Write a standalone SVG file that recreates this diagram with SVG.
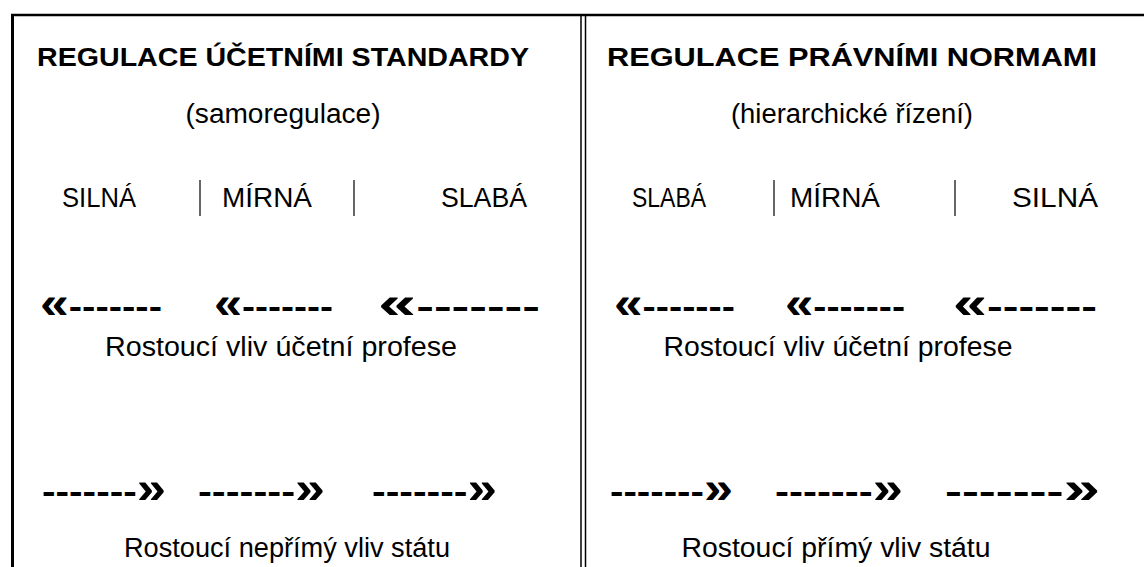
<svg xmlns="http://www.w3.org/2000/svg" width="1144" height="567" viewBox="0 0 1144 567">
<style>
.t{font-family:"Liberation Sans",Arial,sans-serif;fill:#000;text-anchor:middle}
.h{font-size:25px;font-weight:bold}
.n{font-size:27px}
.a{font-size:34px;font-weight:bold;text-anchor:start}
.g{font-size:44px}
.ln{stroke:#000;fill:none}
</style>
<rect width="1144" height="567" fill="#fff"/>
<g id="frame">
<line class="ln" x1="11" y1="15" x2="1144" y2="15" stroke-width="2.5"/>
<line class="ln" x1="12.5" y1="14" x2="12.5" y2="567" stroke-width="3"/>
<line class="ln" x1="581" y1="16" x2="581" y2="567" stroke-width="1.5"/>
<line class="ln" x1="585.5" y1="16" x2="585.5" y2="567" stroke-width="1.5"/>
</g>
<g id="left-panel">
<text class="t h" x="283" y="66" textLength="492" lengthAdjust="spacingAndGlyphs">REGULACE ÚČETNÍMI STANDARDY</text>
<text class="t n" x="283" y="123" textLength="195" lengthAdjust="spacingAndGlyphs">(samoregulace)</text>
<text class="t n" x="99" y="207" textLength="74" lengthAdjust="spacingAndGlyphs">SILNÁ</text>
<text class="t n" x="267" y="207" textLength="90" lengthAdjust="spacingAndGlyphs">MÍRNÁ</text>
<text class="t n" x="484" y="207" textLength="86" lengthAdjust="spacingAndGlyphs">SLABÁ</text>
<line class="ln" x1="200" y1="180" x2="200" y2="216" stroke-width="1.2"/>
<line class="ln" x1="354" y1="180" x2="354" y2="216" stroke-width="1.2"/>
<text class="t n" x="281" y="356" textLength="352" lengthAdjust="spacingAndGlyphs">Rostoucí vliv účetní profese</text>
<text class="t n" x="287" y="557" textLength="326" lengthAdjust="spacingAndGlyphs">Rostoucí nepřímý vliv státu</text>
</g>
<g id="right-panel">
<text class="t h" x="852" y="66" textLength="490" lengthAdjust="spacingAndGlyphs">REGULACE PRÁVNÍMI NORMAMI</text>
<text class="t n" x="852" y="123" textLength="242" lengthAdjust="spacingAndGlyphs">(hierarchické řízení)</text>
<text class="t n" x="669" y="207" textLength="74" lengthAdjust="spacingAndGlyphs">SLABÁ</text>
<text class="t n" x="835" y="207" textLength="90" lengthAdjust="spacingAndGlyphs">MÍRNÁ</text>
<text class="t n" x="1055" y="207" textLength="86" lengthAdjust="spacingAndGlyphs">SILNÁ</text>
<line class="ln" x1="774" y1="180" x2="774" y2="216" stroke-width="1.2"/>
<line class="ln" x1="955" y1="180" x2="955" y2="216" stroke-width="1.2"/>
<text class="t n" x="838" y="356" textLength="349" lengthAdjust="spacingAndGlyphs">Rostoucí vliv účetní profese</text>
<text class="t n" x="836" y="557" textLength="309" lengthAdjust="spacingAndGlyphs">Rostoucí přímý vliv státu</text>
</g>
<g id="connectors">
<text class="t a" x="40" y="318" textLength="122" lengthAdjust="spacingAndGlyphs"><tspan class="g">«</tspan>-------</text>
<text class="t a" x="214" y="318" textLength="119" lengthAdjust="spacingAndGlyphs"><tspan class="g">«</tspan>-------</text>
<text class="t a" x="378" y="318" textLength="162" lengthAdjust="spacingAndGlyphs"><tspan class="g">«</tspan>-------</text>
<text class="t a" x="614" y="318" textLength="121" lengthAdjust="spacingAndGlyphs"><tspan class="g">«</tspan>-------</text>
<text class="t a" x="785" y="318" textLength="120" lengthAdjust="spacingAndGlyphs"><tspan class="g">«</tspan>-------</text>
<text class="t a" x="953" y="318" textLength="144" lengthAdjust="spacingAndGlyphs"><tspan class="g">«</tspan>-------</text>
<text class="t a" x="42" y="503" textLength="124" lengthAdjust="spacingAndGlyphs">-------<tspan class="g">»</tspan></text>
<text class="t a" x="198" y="503" textLength="127" lengthAdjust="spacingAndGlyphs">-------<tspan class="g">»</tspan></text>
<text class="t a" x="372" y="503" textLength="125" lengthAdjust="spacingAndGlyphs">-------<tspan class="g">»</tspan></text>
<text class="t a" x="610" y="503" textLength="123" lengthAdjust="spacingAndGlyphs">-------<tspan class="g">»</tspan></text>
<text class="t a" x="775" y="503" textLength="128" lengthAdjust="spacingAndGlyphs">-------<tspan class="g">»</tspan></text>
<text class="t a" x="945" y="503" textLength="155" lengthAdjust="spacingAndGlyphs">-------<tspan class="g">»</tspan></text>
</g>
</svg>
